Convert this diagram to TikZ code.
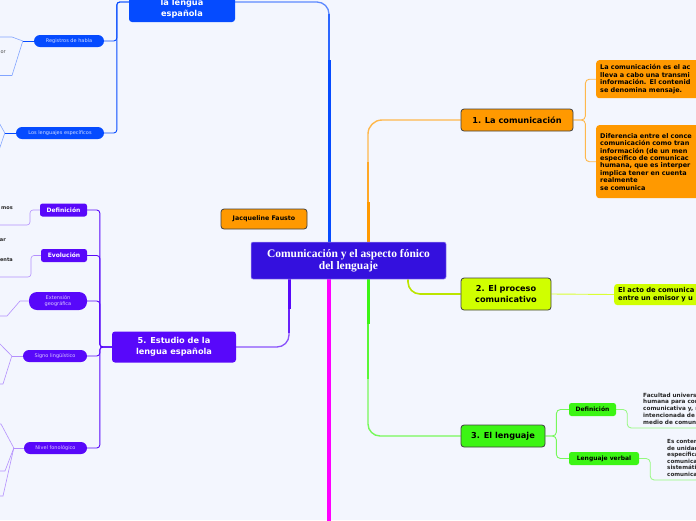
\documentclass[tikz,border=0pt]{standalone}
\usepackage{fontspec}
\newfontfamily\vs{DejaVu Sans}
\newfontfamily\gs{Liberation Serif}
\usetikzlibrary{calc}
\definecolor{bgc}{RGB}{243,246,254}
\definecolor{croot}{RGB}{52,16,222}
\definecolor{cblue}{RGB}{5,75,255}
\definecolor{cpur}{RGB}{88,8,250}
\definecolor{corange}{RGB}{255,153,0}
\definecolor{cyel}{RGB}{208,255,0}
\definecolor{cgreen}{RGB}{60,245,20}
\definecolor{cmag}{RGB}{255,0,255}
\pgfdeclarelayer{back}
\pgfdeclarelayer{lines}
\pgfsetlayers{back,lines,main}
\begin{document}
\begin{tikzpicture}[x=1pt,y=-1pt,
  rootbox/.style={fill=croot, draw=white!55!croot, line width=0.5pt, rounded corners=2pt, text=white, inner sep=0pt, align=center,
    minimum width=195, minimum height=37, font=\gs\bfseries\fontsize{11.5}{12.5}\selectfont},
  mainbox/.style={draw=black!75, line width=0.8pt, rounded corners=3pt, inner sep=0pt, align=center,
    font=\vs\bfseries\fontsize{8.2}{10.5}\selectfont},
  topbox/.style={fill=cblue, rounded corners=3pt, inner sep=0pt, align=center, text=white,
    font=\vs\bfseries\fontsize{8.2}{11}\selectfont},
  subbox/.style={rounded corners=2.5pt, inner sep=0pt, align=center, font=\vs\bfseries\fontsize{6}{7}\selectfont},
  pill/.style={rounded corners=6pt, inner sep=0pt, align=center, font=\vs\fontsize{5}{6.5}\selectfont},
  leaf/.style={rounded corners=3pt, inner xsep=4pt, inner ysep=0pt, align=left, anchor=north west,
    font=\vs\bfseries\fontsize{6.5}{7.5}\selectfont},
  ltext/.style={inner sep=0pt, align=left, anchor=north west, text=black!85,
    font=\vs\bfseries\fontsize{5.7}{6.8}\selectfont},
  frag/.style={inner sep=0pt, text=black!85, font=\vs\bfseries\fontsize{5}{6}\selectfont},
  rc/.style={rounded corners=#1},
]
\useasboundingbox (0,0) rectangle (696,520);
\begin{pgfonlayer}{back}
\fill[bgc] (0,0) rectangle (696,520);
\end{pgfonlayer}
\clip (0,0) rectangle (696,520);

% coordinates
\coordinate (bx) at (329,0);
\coordinate (ox) at (368,0);
\coordinate (px) at (289,0);
\coordinate (yx) at (408,0);
\coordinate (gx) at (368,0);
\coordinate (mx) at (329,530);
\coordinate (ldend) at (700,428);
\coordinate (lvend) at (700,480);

% central
\node[rootbox] (root) at (348.5,260.5) {Comunicación y el aspecto fónico\\del lenguaje};
\node[mainbox, fill=corange, minimum width=86, minimum height=20, font=\vs\bfseries\fontsize{6.3}{7}\selectfont] (jf) at (264,219) {Jacqueline Fausto};

% blue branch
\node[topbox, minimum width=106, minimum height=40] (blue) at (182,2) {\strut\\la lengua\\española};
\node[pill, fill=cblue, text=white!80!cblue, minimum width=70, minimum height=12] (reg) at (69,41) {Registros de habla};
\node[pill, fill=cblue, text=white!80!cblue, minimum width=88, minimum height=12] (lang) at (60,133) {Los lenguajes específicos};
\node[frag, text=black!70, font=\vs\fontsize{5}{6}\selectfont, anchor=base east] (f0) at (6,53) {or};

% purple branch
\node[topbox, fill=cpur, minimum width=124, minimum height=31] (est) at (174,347) {5. Estudio de la\\lengua española};
\node[subbox, fill=cpur, text=white, minimum width=47, minimum height=13] (def1) at (63.5,210) {Definición};
\node[subbox, fill=cpur, text=white, minimum width=46, minimum height=13] (evo) at (64,255.5) {Evolución};
\node[pill, fill=cpur, text=white!78!cpur, minimum width=58, minimum height=18, rounded corners=8pt] (ext) at (58,301) {Extensión\\geográfica};
\node[pill, fill=cpur, text=white!78!cpur, minimum width=64, minimum height=12] (sig) at (55,356) {Signo lingüístico};
\node[pill, fill=cpur, text=white!78!cpur, minimum width=63, minimum height=12] (niv) at (55.5,448) {Nivel fonológico};
\node[frag, anchor=base east] (f1) at (13,209) {mos};
\node[frag, anchor=base east] (f2) at (6,241) {ar};
\node[frag, anchor=base east] (f3) at (13,261) {enta};

% orange branch
\node[mainbox, fill=corange, minimum width=112, minimum height=22] (com) at (517,120) {1. La comunicación};
\node[leaf, fill=corange, minimum height=38, text width=115] (c1) at (596,60)
  {La comunicación es el ac\\lleva a cabo una transmi\\información. El contenid\\se denomina mensaje.};
\node[leaf, fill=corange, minimum height=73, text width=115, font=\vs\bfseries\fontsize{6.5}{7.4}\selectfont] (c2) at (596,125)
  {Diferencia entre el conce\\comunicación como tran\\información (de un men\\específico de comunicac\\humana, que es interper\\implica tener en cuenta\\realmente\\se comunica};

% yellow branch
\node[mainbox, fill=cyel, minimum width=90, minimum height=32] (proc) at (506,294) {2. El proceso\\comunicativo};
\node[leaf, fill=cyel, anchor=west, minimum height=21, text width=95, font=\vs\bfseries\fontsize{6.8}{8}\selectfont] (pc) at (614,294.5)
  {El acto de comunica\\entre un emisor y u};

% green branch
\node[mainbox, fill=cgreen, minimum width=84, minimum height=22] (leng) at (503,436) {3. El lenguaje};
\node[subbox, fill=cgreen, text=black, minimum width=47, minimum height=13] (ld) at (592.5,409.5) {Definición};
\node[subbox, fill=cgreen, text=black, minimum width=70, minimum height=13] (lv) at (604,458.5) {Lenguaje verbal};
\node[ltext] (ldt) at (643,392.5) {Facultad universa\\humana para con\\comunicativa y, r\\intencionada de l\\medio de comuni};
\node[ltext, font=\vs\bfseries\fontsize{5.6}{6.5}\selectfont] (lvt) at (667,439.5) {Es conten\\de unidad\\específica\\comunica\\sistemáti\\comunica};

\begin{pgfonlayer}{lines}
% blue
\draw[rc=12pt, line width=1.3pt, cblue!65] (bx |- root.north) |- (blue.east);
\draw[line width=2.2pt, cblue!85] (bx |- root.north) -- ($(bx)+(0,14)$);
\draw[line width=3pt, cblue] (bx |- root.north) -- ($(bx)+(0,60)$);
\draw[rc=3pt, line width=0.9pt, cblue] (blue.west) -- ++(-12,0) |- (reg.east);
\draw[rc=3pt, line width=0.9pt, cblue] (blue.west) -- ++(-12,0) |- (lang.east);
\draw[line width=0.7pt, cblue] (reg.west) -- ++(-11,0) coordinate (rj);
\draw[line width=0.6pt, cblue!50] (-2,37) -- (12,37) -- (rj) -- (12,75.5) -- (-2,75.5);
\draw[line width=0.7pt, cblue] (lang.west) -- ++(-11,0) coordinate (lj);
\draw[line width=0.6pt, cblue!50] (-3,119) -- (lj) -- (-3,156);
% purple
\draw[rc=12pt, line width=1.3pt, cpur!70] (px |- root.south) |- (est.east);
\draw[line width=2.4pt, cpur!90] (px |- root.south) -- ($(px|-root.south)+(0,54)$);
\draw[line width=3pt, cpur] (px |- root.south) -- ($(px|-root.south)+(0,30)$);
\foreach \n in {def1,evo,ext,sig,niv}
  \draw[rc=3pt, line width=0.9pt, cpur] (est.west) -- ++(-12,0) |- (\n.east);
\draw[rc=3pt, line width=0.6pt, cpur!45] (def1.west) -- (30,210) -- (30,225) -- (-2,225);
\draw[rc=3pt, line width=0.6pt, cpur!45] (evo.west) -- (31,255.5) -- (31,277) -- (-2,277);
\draw[line width=0.6pt, cpur!45] (ext.west) -- (20,301) -- (7,316) -- (-2,316);
\draw[line width=0.6pt, cpur!45] (sig.west) -- ++(-11,0) coordinate (sj);
\draw[line width=0.6pt, cpur!45] (-2,342) -- (sj) -- (3,384) -- (-2,384);
\draw[line width=0.6pt, cpur!45] (niv.west) -- ++(-10,0) coordinate (nj);
\draw[line width=0.6pt, cpur!45] (-2,424) -- (1,424) -- (nj);
\draw[line width=0.6pt, cpur!45] (nj) -- (5,471) -- (-2,471);
\draw[line width=0.6pt, cpur!45] (nj) -- (3,496) -- (-2,496);
% magenta
\draw[line width=3.2pt, cmag] (mx |- root.south) -- (mx);
% orange
\draw[rc=14pt, line width=1.4pt, corange!70] (ox |- root.north) |- (com.west);
\draw[line width=2.2pt, corange!85] (ox |- root.north) -- ($(ox|-root.north)+(0,-80)$);
\draw[line width=3pt, corange] (ox |- root.north) -- ($(ox|-root.north)+(0,-40)$);
\draw[rc=4pt, line width=0.9pt, corange!70] (com.east) -- ++(12,0) |- (c1.west);
\draw[rc=4pt, line width=0.9pt, corange!70] (com.east) -- ++(12,0) |- (c2.west);
% yellow
\draw[rc=12pt, line width=1.6pt, cyel!90!black] (yx |- root.south) |- (proc.west);
\draw[line width=0.9pt, cyel!80] (proc.east) -- (pc.west);
% green
\draw[rc=12pt, line width=1.4pt, cgreen!70] (gx |- root.south) |- (leng.west);
\draw[line width=2.2pt, cgreen!85] (gx |- root.south) -- ($(gx|-root.south)+(0,100)$);
\draw[line width=3pt, cgreen] (gx |- root.south) -- ($(gx|-root.south)+(0,45)$);
\draw[rc=4pt, line width=0.9pt, cgreen!70] (leng.east) -- ++(11,0) |- (ld.west);
\draw[rc=4pt, line width=0.9pt, cgreen!70] (leng.east) -- ++(11,0) |- (lv.west);
\draw[rc=4pt, line width=0.8pt, cgreen!55] (ld.east) -- ++(11,0) |- (ldend);
\draw[rc=4pt, line width=0.8pt, cgreen!55] (lv.east) -- ++(11,0) |- (lvend);
\end{pgfonlayer}
\end{tikzpicture}
\end{document}
